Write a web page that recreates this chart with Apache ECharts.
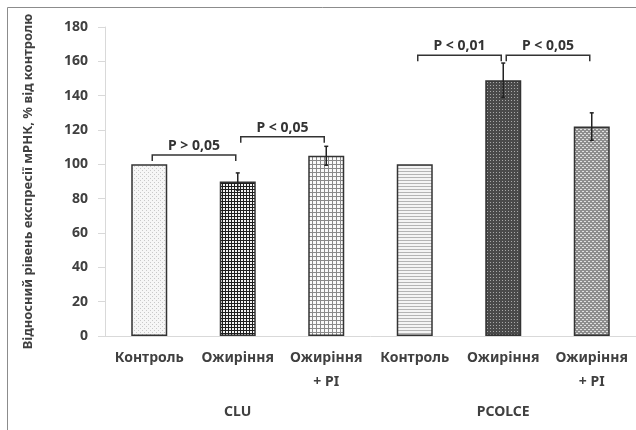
<!DOCTYPE html>
<html>
<head>
<meta charset="utf-8">
<script src="https://cdn.jsdelivr.net/npm/echarts@6/dist/echarts.min.js"></script>
<style>
  html, body { margin: 0; padding: 0; background: #fff; }
  #chart { width: 636px; height: 430px; }
</style>
</head>
<body>
<div id="chart"></div>
<script>
var categories = ['Контроль', 'Ожиріння', 'Ожиріння\n+ PI', 'Контроль', 'Ожиріння', 'Ожиріння\n+ PI'];
var groups = ['CLU', 'PCOLCE'];
var values = [100, 90, 105, 100, 149, 122];
var errors = [0, 5, 5.5, 0, 10, 8];

// significance brackets
var bracketFrom = [0, 1, 3, 4];
var bracketTo = [1, 2, 4, 5];
var bracketLevel = [105.5, 116, 163.5, 163.5];
var bracketText = ['P > 0,05', 'P < 0,05', 'P < 0,01', 'P < 0,05'];

function pattern(size, draw) {
	var c = document.createElement('canvas');
	c.width = size; c.height = size;
	var ctx = c.getContext('2d');
	draw(ctx);
	return { image: c, repeat: 'repeat' };
}

var fills = [
	// light dots
	pattern(4, function (ctx) {
		ctx.fillStyle = '#f6f6f6'; ctx.fillRect(0, 0, 4, 4);
		ctx.fillStyle = '#c9c9c9'; ctx.fillRect(0, 0, 1, 1); ctx.fillRect(2, 2, 1, 1);
	}),
	// dark check
	pattern(3, function (ctx) {
		ctx.fillStyle = '#1e1e1e'; ctx.fillRect(0, 0, 3, 3);
		ctx.fillStyle = '#f2f2f2'; ctx.fillRect(1, 1, 2, 2);
	}),
	// light grid
	pattern(4, function (ctx) {
		ctx.fillStyle = '#fafafa'; ctx.fillRect(0, 0, 4, 4);
		ctx.fillStyle = '#8a8a8a'; ctx.fillRect(0, 0, 4, 1); ctx.fillRect(0, 0, 1, 4);
	}),
	// horizontal lines
	pattern(3, function (ctx) {
		ctx.fillStyle = '#f4f4f4'; ctx.fillRect(0, 0, 3, 3);
		ctx.fillStyle = '#b4b4b4'; ctx.fillRect(0, 0, 3, 1);
	}),
	// dark dotted
	pattern(3, function (ctx) {
		ctx.fillStyle = '#4a4a4a'; ctx.fillRect(0, 0, 3, 3);
		ctx.fillStyle = '#a8a8a8'; ctx.fillRect(1, 1, 1, 1);
	}),
	// medium with white dashes
	pattern(4, function (ctx) {
		ctx.fillStyle = '#8e8e8e'; ctx.fillRect(0, 0, 4, 4);
		ctx.fillStyle = '#e0e0e0'; ctx.fillRect(0, 1, 2, 1); ctx.fillRect(2, 3, 2, 1);
	})
];

var font = '"Noto Sans", "DejaVu Sans", sans-serif';
var txt = '#404040';

var myChart = echarts.init(document.getElementById('chart'));

var barData = [];
for (var i = 0; i < values.length; i++) {
	barData.push({ value: values[i], itemStyle: { color: fills[i] } });
}
var errData = [];
for (var i = 0; i < values.length; i++) {
	if (errors[i] > 0) errData.push([i, values[i], errors[i]]);
}
var brData = [];
for (var i = 0; i < bracketFrom.length; i++) {
	brData.push([bracketFrom[i], bracketTo[i], bracketLevel[i], bracketText[i]]);
}

option = {
	backgroundColor: '#fff',
	animation: false,
	graphic: [{
		type: 'rect',
		shape: { x: 7.5, y: 7.5, width: 700, height: 500 },
		style: { fill: 'none', stroke: '#8c8c8c', lineWidth: 1 },
		silent: true
	}],
	grid: { left: 105, right: -2, top: 27, bottom: 94 },
	xAxis: [{
		type: 'category',
		position: 'bottom',
		data: categories,
		axisLine: { lineStyle: { color: '#d9d9d9', width: 1 } },
		axisTick: { length: 54, interval: 0, lineStyle: { color: '#d9d9d9' } },
		axisLabel: {
			interval: 0, margin: 10, color: txt, fontFamily: font,
			fontWeight: 'bold', fontSize: 14, lineHeight: 24
		}
	}, {
		type: 'category',
		position: 'bottom',
		data: groups,
		axisLine: { show: false },
		axisTick: { length: 87, interval: 0, lineStyle: { color: '#d9d9d9' } },
		axisLabel: {
			interval: 0, margin: 68, color: txt, fontFamily: font,
			fontWeight: 'bold', fontSize: 14, lineHeight: 16
		}
	}],
	yAxis: {
		type: 'value',
		min: 0, max: 180, interval: 20,
		name: 'Відносний рівень експресії мРНК, % від контролю',
		nameLocation: 'middle',
		nameGap: 70,
		nameTextStyle: { color: txt, fontFamily: font, fontWeight: 'bold', fontSize: 13 },
		axisLine: { show: true, lineStyle: { color: '#d9d9d9' } },
		axisTick: { show: true, length: 7, lineStyle: { color: '#d9d9d9' } },
		splitLine: { show: false },
		axisLabel: { margin: 17, color: txt, fontFamily: font, fontWeight: 'bold', fontSize: 14 }
	},
	series: [{
		type: 'bar',
		xAxisIndex: 0,
		barWidth: 36,
		itemStyle: { borderColor: '#333', borderWidth: 1.5 },
		data: barData
	}, {
		type: 'custom',
		xAxisIndex: 0,
		data: errData,
		z: 5,
		renderItem: function (params, api) {
			var x = api.value(0), v = api.value(1), e = api.value(2);
			var top = api.coord([x, v + e]);
			var bot = api.coord([x, v - e]);
			var st = { stroke: '#222', lineWidth: 1.5 };
			return {
				type: 'group',
				children: [
					{ type: 'line', shape: { x1: top[0], y1: top[1], x2: bot[0], y2: bot[1] }, style: st },
					{ type: 'line', shape: { x1: top[0] - 2, y1: top[1], x2: top[0] + 2, y2: top[1] }, style: st },
					{ type: 'line', shape: { x1: bot[0] - 2, y1: bot[1], x2: bot[0] + 2, y2: bot[1] }, style: st }
				]
			};
		}
	}, {
		type: 'custom',
		xAxisIndex: 0,
		data: brData,
		z: 6,
		renderItem: function (params, api) {
			var a = api.coord([api.value(0), api.value(2)]);
			var b = api.coord([api.value(1), api.value(2)]);
			var x1 = a[0] + 3, x2 = b[0] - 2, y = a[1];
			var st = { stroke: '#333', lineWidth: 1.5, fill: 'none' };
			return {
				type: 'group',
				children: [
					{ type: 'polyline', shape: { points: [[x1, y + 6], [x1, y], [x2, y], [x2, y + 6]] }, style: st },
					{ type: 'text', x: (x1 + x2) / 2, y: y - 9, style: {
						text: bracketText[params.dataIndex], fill: '#333', font: 'bold 14px ' + font,
						align: 'center', verticalAlign: 'middle' } }
				]
			};
		}
	}]
};
myChart.setOption(option);
</script>
</body>
</html>
